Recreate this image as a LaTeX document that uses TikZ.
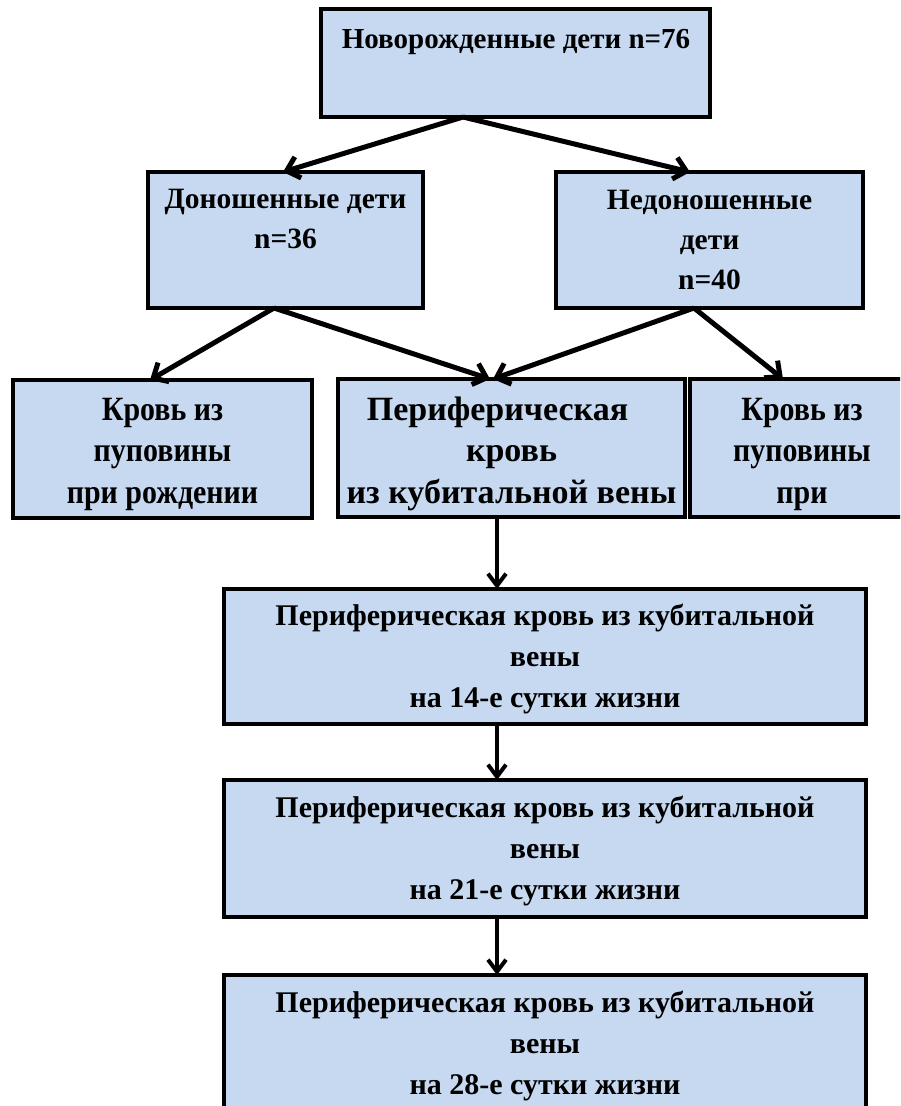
\documentclass[tikz,border=0pt]{standalone}
\usepackage{fontspec}
\setmainfont{Liberation Serif}
\newfontfamily\narrowfont[FakeStretch=0.88]{Liberation Serif}
\usetikzlibrary{arrows.meta}
\definecolor{boxfill}{RGB}{198,217,241}
\begin{document}
\begin{tikzpicture}[x=1pt,y=-1pt,
  box/.style={draw=black, line width=3.5pt, fill=boxfill, inner sep=0pt, outer sep=0pt, anchor=north west},
  lbl/.style={anchor=north, inner sep=0pt, align=center, text=black, font=\bfseries\fontsize{29.5}{40}\selectfont},
  lbltop/.style={lbl, font=\bfseries\fontsize{29}{40}\selectfont},
  lblb/.style={lbl, font=\bfseries\fontsize{29.5}{40}\selectfont},
  lblc/.style={lbl, font=\narrowfont\bfseries\fontsize{34}{41.5}\selectfont},
  lblcw/.style={lbl, font=\bfseries\fontsize{34}{41.5}\selectfont},
  lbld/.style={lbl, font=\bfseries\fontsize{30}{41}\selectfont},
  arr/.style={line width=5pt, -{Straight Barb[length=12pt,width=22pt]}},
  varr/.style={line width=4pt, -{Straight Barb[length=12pt,width=18pt]}}
]
\useasboundingbox (0,0) rectangle (900,1106);
\clip (0,0) rectangle (900,1106);

% boxes
\node[box, minimum width=389pt, minimum height=108pt] (top) at (321,9) {};
\node[box, minimum width=275pt, minimum height=136pt] (b1) at (148,172) {};
\node[box, minimum width=307pt, minimum height=136pt] (b2) at (556,172) {};
\node[box, minimum width=299pt, minimum height=138pt] (c1) at (13,380) {};
\node[box, minimum width=347pt, minimum height=138pt] (c2) at (338,379) {};
\node[box, minimum width=224pt, minimum height=138pt] (c3) at (690,379) {};
\node[box, minimum width=642pt, minimum height=135pt] (d1) at (224,589) {};
\node[box, minimum width=642pt, minimum height=137pt] (d2) at (224,780) {};
\node[box, minimum width=642pt, minimum height=160pt] (d3) at (224,975) {};

% texts
\node[lbltop] (ttop) at (516,20) {\rule{0pt}{28pt}Новорожденные дети n=76};
\node[lblb] (tb1) at (285.5,180) {\rule{0pt}{28pt}Доношенные дети\\n=36};
\node[lblb] (tb2) at (709.5,181) {\rule{0pt}{28pt}Недоношенные\\дети\\n=40};
\node[lblc] (tc1) at (162.5,392) {\rule{0pt}{28pt}Кровь из\\пуповины\\при рождении};
\node[lblcw] (tc2) at (511.5,392) {\rule{0pt}{28pt}Периферическая\hspace*{28pt}\\кровь\\из кубитальной вены};
\node[lblc] (tc3) at (802,392) {\rule{0pt}{28pt}Кровь из\\пуповины\\при};
\node[lbld] (td1) at (545,597) {\rule{0pt}{28pt}Периферическая кровь из кубитальной\\вены\\на 14-е сутки жизни};
\node[lbld] (td2) at (545,789) {\rule{0pt}{28pt}Периферическая кровь из кубитальной\\вены\\на 21-е сутки жизни};
\node[lbld] (td3) at (545,984) {\rule{0pt}{28pt}Периферическая кровь из кубитальной\\вены\\на 28-е сутки жизни};

% connector end points
\coordinate (topS) at (463,117);
\coordinate (b1N) at (283,172);
\coordinate (b2N) at (690,172);
\coordinate (b1S) at (274,308);
\coordinate (b2S) at (694,308);
\coordinate (c1N) at (150,380);
\coordinate (c2Na) at (490,379);
\coordinate (c2Nb) at (493,379);
\coordinate (c3N) at (783,379);
\coordinate (c2S) at (497,517);
\coordinate (d1N) at (497,589);
\coordinate (d1S) at (497,724);
\coordinate (d2N) at (497,780);
\coordinate (d2S) at (497,917);
\coordinate (d3N) at (497,975);

% connectors
\draw[arr] (topS) -- (b1N);
\draw[arr] (topS) -- (b2N);
\draw[arr] (b1S) -- (c1N);
\draw[arr] (b1S) -- (c2Na);
\draw[arr] (b2S) -- (c2Nb);
\draw[arr] (b2S) -- (c3N);
\draw[varr] (c2S) -- (d1N);
\draw[varr] (d1S) -- (d2N);
\draw[varr] (d2S) -- (d3N);
\end{tikzpicture}
\end{document}
